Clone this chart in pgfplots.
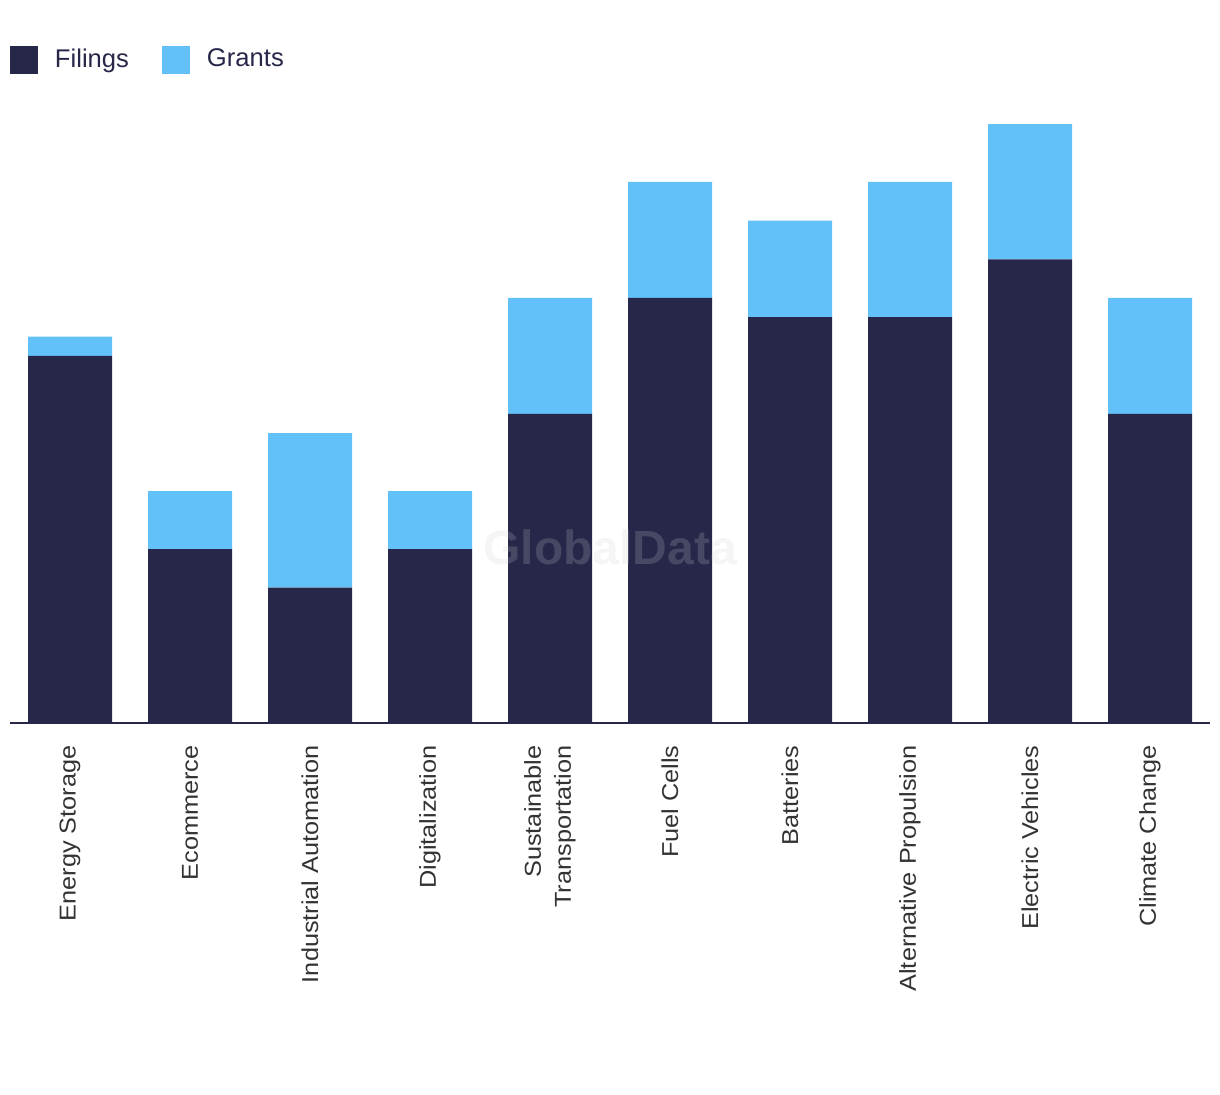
\documentclass[border=0pt]{standalone}
\usepackage{pgfplots}
\pgfplotsset{compat=1.18}
\usepackage{fontspec}
\setmainfont{Liberation Sans}
\newfontfamily\lblfont[FakeStretch=1.1]{Liberation Sans}
\definecolor{navy}{HTML}{27274A}
\definecolor{sky}{HTML}{62C1F8}
\definecolor{lbl}{HTML}{333333}
\begin{document}
\begin{tikzpicture}
\begin{axis}[
  at={(5pt,185.5pt)}, anchor=south west,
  scale only axis, width=600pt, height=299.5pt,
  ybar stacked, bar width=42pt,
  xmin=-0.5, xmax=9.5, ymin=0, ymax=31,
  axis x line=bottom, axis y line=none,
  axis line style={-, draw=navy, line width=0.8pt},
  xtick={0,...,9},
  xticklabels={Energy Storage, Ecommerce, Industrial Automation, Digitalization, {Sustainable\\Transportation}, Fuel Cells, Batteries, Alternative Propulsion, Electric Vehicles, Climate Change},
  major tick length=0pt,
  xticklabel shift=11pt,
  xticklabel style={rotate=90, anchor=east, inner sep=0pt, align=right, font=\lblfont\fontsize{11.5}{15}\selectfont, text=lbl},
  ytick=\empty,
  legend style={at={(rel axis cs:0,1)}, anchor=west, yshift=32.25pt, draw=none, fill=none, inner sep=0pt, outer sep=0pt, legend columns=2, font=\fontsize{12.8}{15}\selectfont, text=navy, nodes={inner sep=0pt},
    /tikz/every odd column/.append style={column sep=8.5pt},
    /tikz/every even column/.append style={column sep=16.5pt}},
  legend image code/.code={\fill[#1] (0pt,-7pt) rectangle (14pt,7pt);},
  clip=false,
]
\addplot[fill=navy, draw=none] coordinates {(0,19) (1,9) (2,7) (3,9) (4,16) (5,22) (6,21) (7,21) (8,24) (9,16)};
\addplot[fill=sky, draw=none] coordinates {(0,1) (1,3) (2,8) (3,3) (4,6) (5,6) (6,5) (7,7) (8,7) (9,6)};
\legend{Filings, Grants}
\coordinate (wm) at (axis cs:4.5,9.1);
\end{axis}
\node[font=\bfseries\fontsize{24}{24}\selectfont, text=black!20, text opacity=0.2] at (wm) {GlobalData};
\pgfresetboundingbox
\useasboundingbox (0,0) rectangle (610pt,547pt);
\end{tikzpicture}
\end{document}
